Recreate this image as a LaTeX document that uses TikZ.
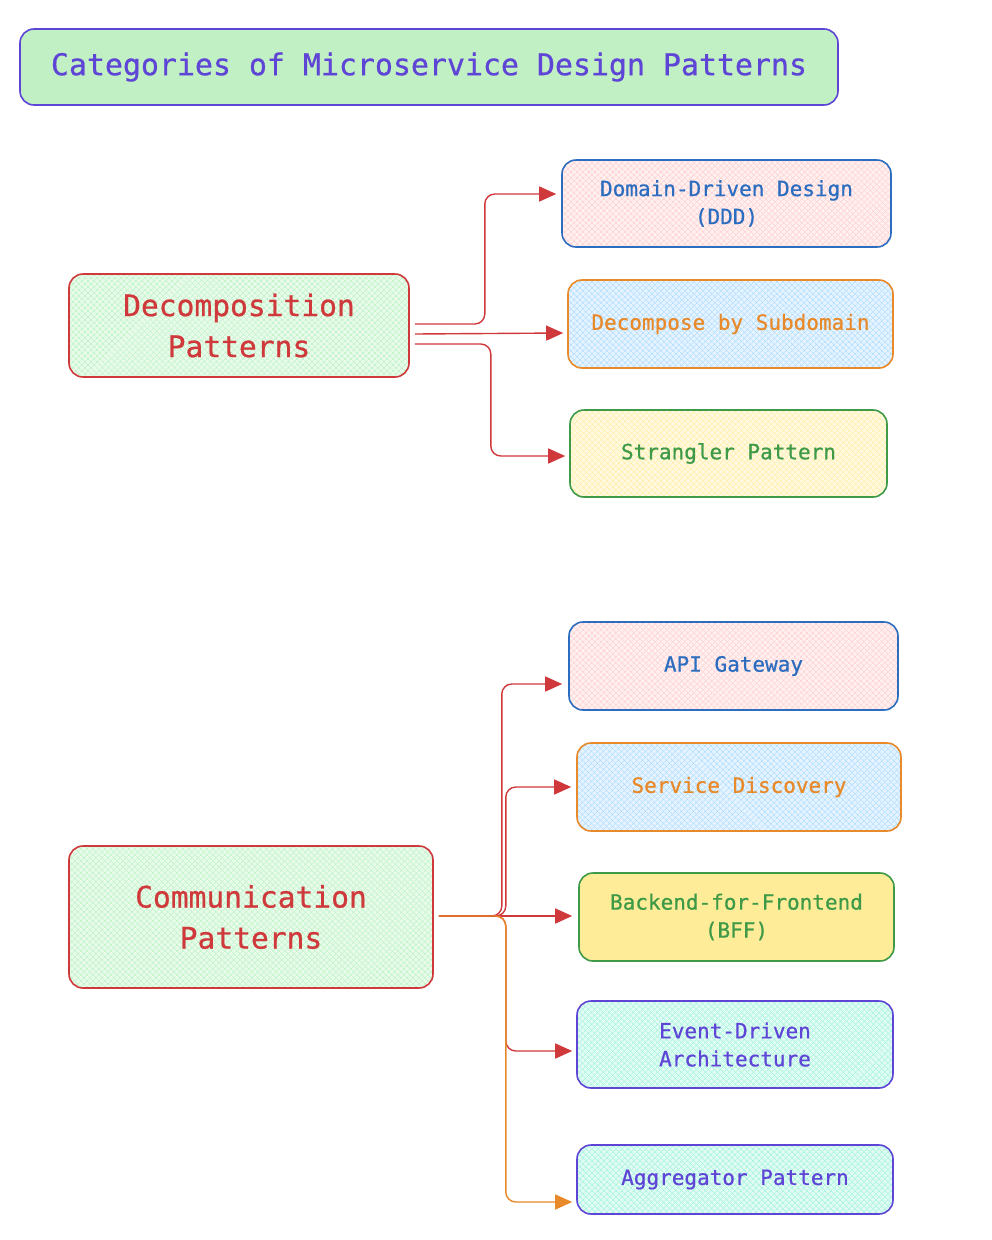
\documentclass[tikz,border=0pt]{standalone}
\usepackage{fontspec}
\setmonofont{DejaVu Sans Mono}
\newfontfamily\sketchfont{DejaVu Sans Mono}[FakeBold=0.7]
\usetikzlibrary{arrows.meta,patterns.meta}
\definecolor{exred}{HTML}{D0393B}
\definecolor{exblue}{HTML}{2C6DBF}
\definecolor{exorange}{HTML}{E8892A}
\definecolor{exgreen}{HTML}{3E9A47}
\definecolor{expurple}{HTML}{5F45D6}
\definecolor{titlegreen}{HTML}{C0F0C4}
\definecolor{fillgreen}{HTML}{B2F2BB}
\definecolor{fillpink}{HTML}{FFC9C9}
\definecolor{fillblue}{HTML}{A5D8FF}
\definecolor{fillyellow}{HTML}{FFEC99}
\definecolor{fillteal}{HTML}{96F2D7}
\tikzset{
	item/.style={rectangle, rounded corners=14pt, line width=1.6pt, align=center, font=\sketchfont\fontsize{21}{28}\selectfont},
	group/.style={item, draw=exred, text=exred, hatch=fillgreen, font=\sketchfont\fontsize{29.6}{41}\selectfont},
	hatch/.style={preaction={fill=#1!30},
		preaction={pattern={Lines[angle=45,distance=4pt,line width=0.5pt]}, pattern color=#1},
		preaction={pattern={Lines[angle=-45,distance=4pt,line width=0.5pt]}, pattern color=#1}},
	link/.style={draw=exred, line width=1.4pt, rounded corners=10pt, -{Triangle[length=17pt,width=15pt,fill=exred]}}
}
\begin{document}
\begin{tikzpicture}[x=1pt,y=-1pt]
		\useasboundingbox (0,0) rectangle (992,1240);
		\node[item, draw=expurple, text=expurple, fill=titlegreen, minimum width=818, minimum height=76, font=\sketchfont\fontsize{29.9}{36}\selectfont] (title) at (429,67) {Categories of Microservice Design Patterns};
		\node[group, minimum width=340, minimum height=103] (dec) at (239,325.5) {Decomposition\\Patterns};
		\node[item, draw=exblue, text=exblue, hatch=fillpink, minimum width=329, minimum height=87] (ddd) at (726.5,203.5) {Domain-Driven Design\\(DDD)};
		\node[item, draw=exorange, text=exorange, hatch=fillblue, minimum width=325, minimum height=88] (dbs) at (730.5,324) {Decompose by Subdomain};
		\node[item, draw=exgreen, text=exgreen, hatch=fillyellow, minimum width=317, minimum height=87] (strangler) at (728.5,453.5) {Strangler Pattern};
		\node[group, minimum width=364, minimum height=142] (comm) at (251,917) {Communication\\Patterns};
		\node[item, draw=exblue, text=exblue, hatch=fillpink, minimum width=329, minimum height=88] (api) at (733.5,666) {API Gateway};
		\node[item, draw=exorange, text=exorange, hatch=fillblue, minimum width=324, minimum height=88] (sd) at (739,787) {Service Discovery};
		\node[item, draw=exgreen, text=exgreen, fill=fillyellow, minimum width=315, minimum height=88] (bff) at (736.5,917) {Backend-for-Frontend\\(BFF)};
		\node[item, draw=expurple, text=expurple, hatch=fillteal, minimum width=316, minimum height=87] (eda) at (735,1044.5) {Event-Driven\\Architecture};
		\node[item, draw=expurple, text=expurple, hatch=fillteal, minimum width=316, minimum height=69] (agg) at (735,1179.5) {Aggregator Pattern};
		\draw[link] ([shift={(5,-1.5)}]dec.east) -- ++(70,0) |- ([shift={(-5,-9.5)}]ddd.west);
		\draw[link] ([shift={(5,8.5)}]dec.east) -- ([shift={(-4,9)}]dbs.west);
		\draw[link] ([shift={(5,18.5)}]dec.east) -- ++(76,0) |- ([shift={(-4,2.5)}]strangler.west);
		\draw[link] ([shift={(5,-1)}]comm.east) -- ++(63,0) |- ([shift={(-6,18)}]api.west);
		\draw[link] ([shift={(5,-1)}]comm.east) -- ++(67,0) |- ([shift={(-5,0)}]sd.west);
		\draw[link] ([shift={(5,-1)}]comm.east) -- ([shift={(-6,-1)}]bff.west);
		\draw[link] ([shift={(5,-1)}]comm.east) -- ++(67,0) |- ([shift={(-4,6.5)}]eda.west);
		\draw[link, draw=exorange, -{Triangle[length=17pt,width=15pt,fill=exorange]}] ([shift={(5,-1)}]comm.east) -- ++(67,0) |- ([shift={(-4,22.5)}]agg.west);
	\end{tikzpicture}
\end{document}
